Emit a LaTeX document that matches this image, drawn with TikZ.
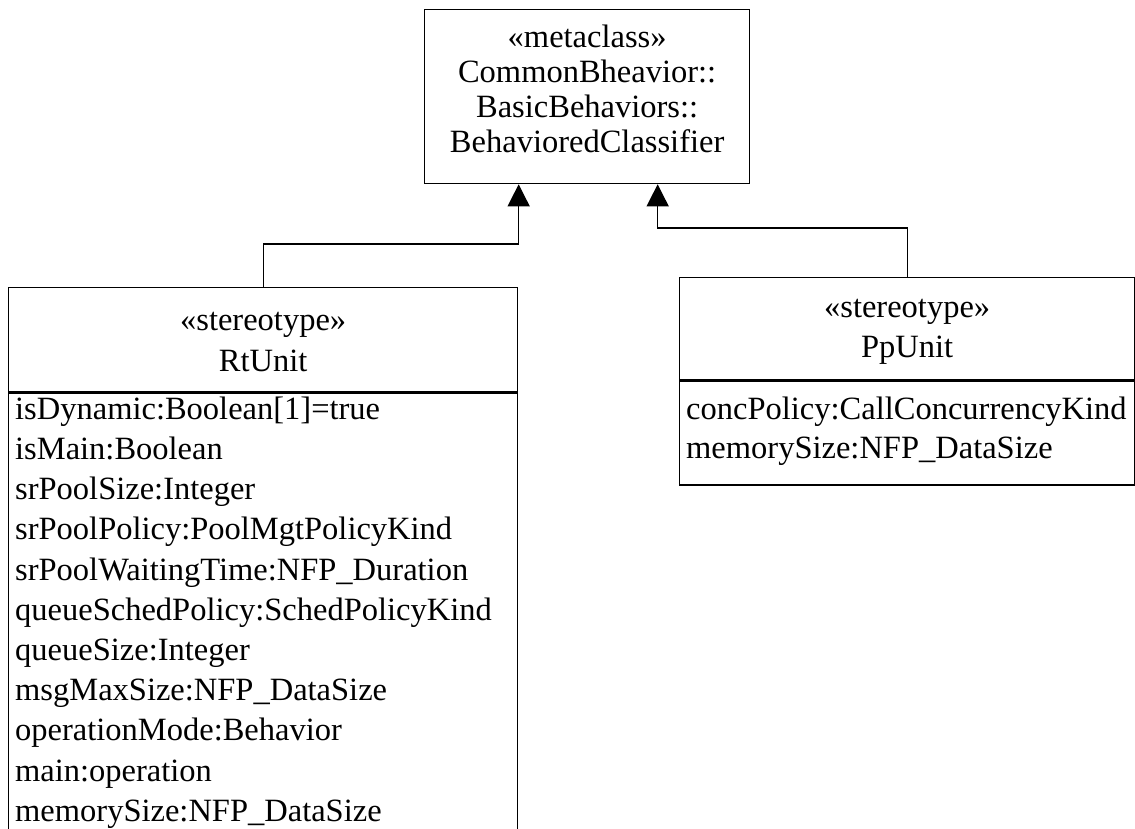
\documentclass[tikz,border=0pt]{standalone}
\usepackage{fontspec}
\setmainfont{Liberation Serif}
\usetikzlibrary{arrows.meta,calc}
\begin{document}
\begin{tikzpicture}[x=1pt,y=-1pt,
  box/.style={draw, line width=1.3pt, inner sep=0pt, anchor=north west},
  txt/.style={font=\fontsize{32.5}{38}\selectfont, inner sep=0pt},
  gen/.style={draw, line width=1.3pt, -{Triangle[width=22pt,length=22pt]}}]
\useasboundingbox (0,0) rectangle (1135,829);

% metaclass
\node[box, minimum width=325pt, minimum height=174pt] (meta) at (424,9) {};
\node[txt, anchor=base] (meta1) at ($(meta.north)+(0,39)$) {«metaclass»};
\node[txt, anchor=base] (meta2) at ($(meta.north)+(0,74)$) {CommonBheavior::};
\node[txt, anchor=base] (meta3) at ($(meta.north)+(0,109)$) {BasicBehaviors::};
\node[txt, anchor=base] (meta4) at ($(meta.north)+(0,144)$) {BehavioredClassifier};

% RtUnit stereotype
\node[box, minimum width=509pt, minimum height=104pt] (rt) at (8,287) {};
\node[txt, anchor=base] (rtst) at ($(rt.north)+(0,43)$) {«stereotype»};
\node[txt, anchor=base] (rtnm) at ($(rt.north)+(0,84)$) {RtUnit};
\node[box, minimum width=509pt, minimum height=470pt] (rtattr) at (rt.south west) {};
\foreach \t [count=\i from 0] in {{isDynamic:Boolean[1]=true},{isMain:Boolean},
  {srPoolSize:Integer},{srPoolPolicy:PoolMgtPolicyKind},
  {srPoolWaitingTime:NFP\_Duration},{queueSchedPolicy:SchedPolicyKind},
  {queueSize:Integer},{msgMaxSize:NFP\_DataSize},{operationMode:Behavior},
  {main:operation},{memorySize:NFP\_DataSize}}
  \node[txt, anchor=base west] (rta\i) at ($(rtattr.north west)+(7,27+40.2*\i)$) {\t};

% PpUnit stereotype
\node[box, minimum width=455pt, minimum height=102pt] (pp) at (679,277) {};
\node[txt, anchor=base] (ppst) at ($(pp.north)+(0,40)$) {«stereotype»};
\node[txt, anchor=base] (ppnm) at ($(pp.north)+(0,80)$) {PpUnit};
\node[box, minimum width=455pt, minimum height=104pt] (ppattr) at (pp.south west) {};
\node[txt, anchor=base west] (ppa0) at ($(ppattr.north west)+(7,39)$) {concPolicy:CallConcurrencyKind};
\node[txt, anchor=base west] (ppa1) at ($(ppattr.north west)+(7,78)$) {memorySize:NFP\_DataSize};

% generalizations
\coordinate (ml) at ([xshift=-68.5pt]meta.south);
\coordinate (mr) at ([xshift=70.5pt]meta.south);
\draw[gen] (rt.north) -- ++(0,-43) -| (ml);
\draw[gen] (pp.north) -- ++(0,-49) -| (mr);
\end{tikzpicture}
\end{document}
